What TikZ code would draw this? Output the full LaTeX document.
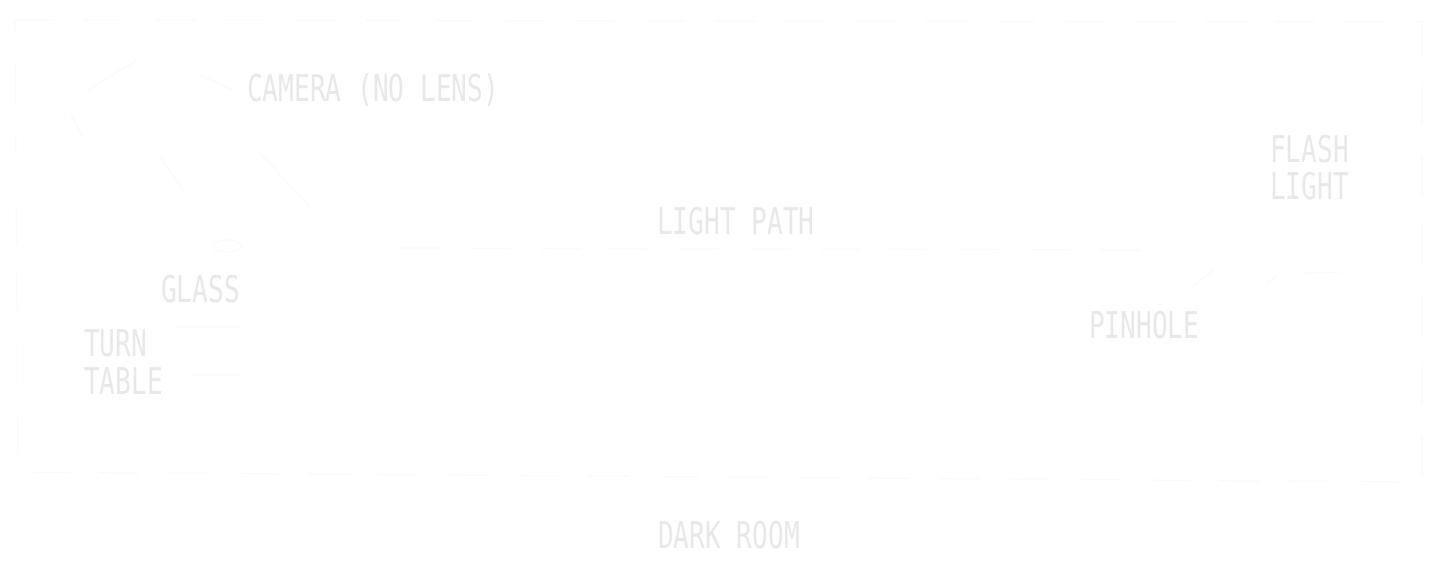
\documentclass[tikz,border=0pt]{standalone}
\usepackage{fontspec}
\newfontfamily\labfont[FakeStretch=0.71]{DejaVu Sans Mono}
\begin{document}
\begin{tikzpicture}[x=1bp,y=-1bp,
  lab/.style={inner sep=0pt,outer sep=0pt,text=black!9,
    font=\labfont\fontsize{37}{37.5}\selectfont},
  faint/.style={draw=black!2,line width=1.2bp},
  faintdash/.style={faint,dash pattern=on 40bp off 30bp}]
\useasboundingbox[fill=white] (0,0) rectangle (1440,561);
% room outline
\draw[faintdash] (15,20) -- (1422,22) -- (1422,482) -- (18,472) -- cycle;
% camera (tilted box)
\draw[faint] (88,90) -- (137,60) (200,75) -- (233,90)
  (70,113) -- (83,137) (160,157) -- (183,190) (260,153) -- (310,207);
% glass and turntable
\draw[faint] (227,246) ellipse (14 and 6);
\draw[faint] (177,327) -- (240,327) (193,375) -- (240,375);
% light path
\draw[faintdash] (400,248) -- (1140,250);
% pinhole card and flashlight
\draw[faint] (1248,240) -- (1248,267) (1193,287) -- (1213,270)
  (1267,283) -- (1277,275) (1303,273) -- (1340,272);
% labels
\node[lab,anchor=base west] (camera) at (247,102) {CAMERA (NO LENS)};
\node[lab,anchor=north west,align=left] (flash) at (1270,135) {FLASH\\LIGHT};
\node[lab,anchor=base west] (path) at (657,235) {LIGHT PATH};
\node[lab,anchor=base west] (glass) at (161,302) {GLASS};
\node[lab,anchor=north west,align=left] (turn) at (84,330) {TURN\\TABLE};
\node[lab,anchor=base west] (pinhole) at (1089,338) {PINHOLE};
\node[lab,anchor=base west] (room) at (658,548) {DARK ROOM};
\end{tikzpicture}
\end{document}
